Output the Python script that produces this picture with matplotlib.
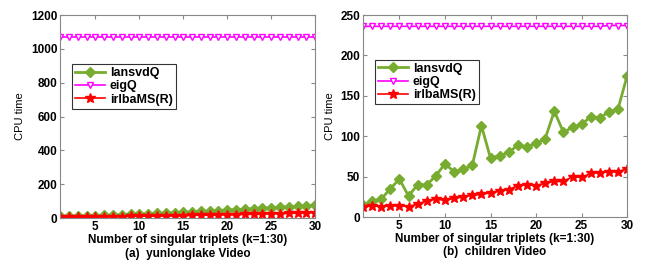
import numpy as np
import matplotlib
matplotlib.use("Agg")
import matplotlib.pyplot as plt

k = list(range(1, 31))

# (a) yunlonglake Video
lansvd_a = [10, 11, 11, 13, 15, 16, 18, 20, 22, 24, 26, 28, 30, 32, 35,
            37, 40, 42, 45, 48, 50, 53, 56, 58, 61, 64, 67, 70, 73, 78]
eig_a = [1070] * 30
irlba_a = [6, 6, 6, 7, 7, 8, 9, 9, 10, 11, 12, 12, 13, 14, 15,
           16, 17, 18, 19, 20, 21, 22, 23, 24, 26, 27, 28, 30, 31, 33]

# (b) children Video
lansvd_b = [15, 20, 22, 35, 47, 26, 40, 40, 51, 66, 56, 59, 64, 113, 73,
            76, 80, 89, 87, 91, 97, 131, 105, 111, 115, 124, 123, 130, 134, 175]
eig_b = [236] * 27 + [237, 237, 237]
irlba_b = [12, 14, 13, 14, 14, 13, 16, 20, 22, 21, 23, 25, 27, 28, 30,
           32, 34, 39, 40, 39, 42, 44, 44, 50, 49, 54, 55, 56, 56, 60]

panels = [
    (lansvd_a, eig_a, irlba_a, [0, 1200], [0, 200, 400, 600, 800, 1000, 1200],
     "(a)  yunlonglake Video", (0.02, 0.79)),
    (lansvd_b, eig_b, irlba_b, [0, 250], [0, 50, 100, 150, 200, 250],
     "(b)  children Video", (0.02, 0.81)),
]

green = "#77AC30"
plt.rcParams['font.family'] = ['Liberation Sans', 'DejaVu Sans']
plt.rcParams['font.weight'] = 'bold'

fig = plt.figure(figsize=(6.54, 2.73), dpi=100)
rects = [[0.092, 0.201, 0.390, 0.744], [0.555, 0.205, 0.404, 0.740]]

for rect, (lv, ev, iv, ylim, yt, cap, legpos) in zip(rects, panels):
    ax = fig.add_axes(rect)
    ax.plot(k, lv, color=green, lw=2, marker='D', ms=5, mfc=green, mec=green, label='lansvdQ')
    ax.plot(k, ev, color='magenta', lw=1.2, marker='v', ms=5, mfc='white', mec='magenta', label='eigQ')
    ax.plot(k, iv, color='red', lw=1.2, marker='*', ms=7, mfc='red', mec='red', label='irlbaMS(R)')
    ax.set_xlim(1, 30)
    ax.set_ylim(*ylim)
    ax.set_xticks([5, 10, 15, 20, 25, 30])
    ax.set_yticks(yt)
    ax.tick_params(direction='in', top=True, right=True, length=3, labelsize=8.5,
                   color='#888888', pad=2)
    for s in ax.spines.values():
        s.set_color('#888888')
        s.set_linewidth(0.8)
    ax.set_xlabel("Number of singular triplets (k=1:30)", fontsize=8.5, fontweight='bold', labelpad=1)
    ax.set_ylabel("CPU time", fontsize=8, fontweight='normal', labelpad=4)
    leg = ax.legend(loc='upper left', bbox_to_anchor=legpos, fontsize=9, frameon=True,
                    fancybox=False, edgecolor='black', handlelength=2.4,
                    borderpad=0.25, labelspacing=0.1, handletextpad=0.4)
    leg.get_frame().set_linewidth(0.8)
    ax.text(0.5, -0.145, cap, transform=ax.transAxes, ha='center', va='top',
            fontsize=8.5, fontweight='bold')

fig.savefig("out.png", dpi=100)
